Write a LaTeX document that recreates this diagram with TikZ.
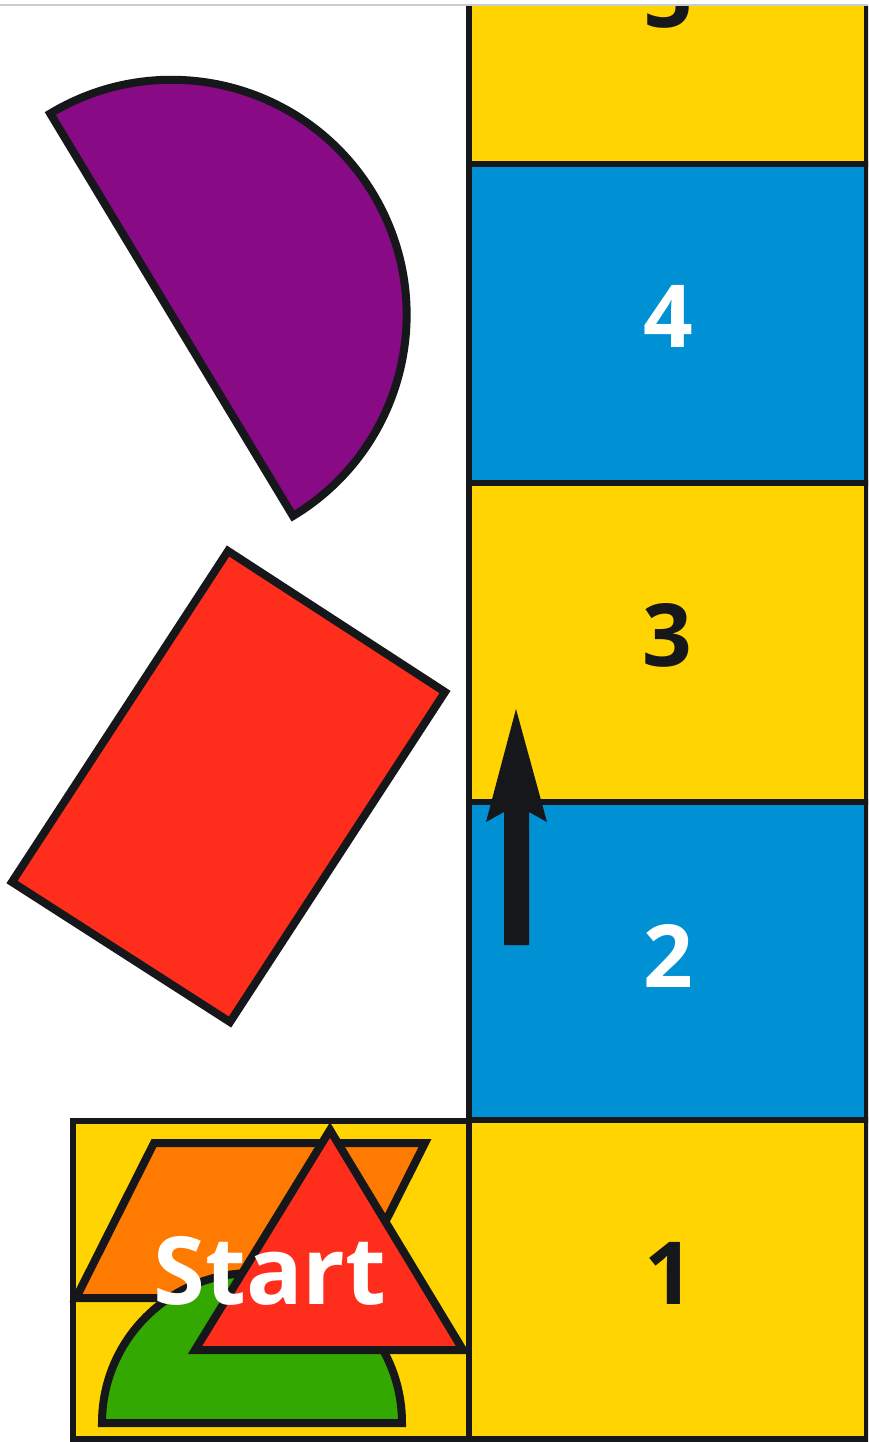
\documentclass[tikz,border=0pt]{standalone}
\usepackage{fontspec}
\setmainfont{Open Sans}
\definecolor{byellow}{HTML}{FFD400}
\definecolor{bblue}{HTML}{0091D4}
\definecolor{bred}{HTML}{FF2E1C}
\definecolor{borange}{HTML}{FF7A00}
\definecolor{bgreen}{HTML}{33A800}
\definecolor{bpurple}{HTML}{880A85}
\definecolor{ink}{HTML}{16171B}
\begin{document}
\begin{tikzpicture}[x=1pt,y=-1pt,
  cell/.style={draw=ink,line width=6pt,minimum width=397.5pt,minimum height=318.5pt,inner sep=0pt,outer sep=0pt},
  num/.style={inner sep=0pt,font=\fontsize{87}{87}\selectfont\bfseries},
  piece/.style={draw=ink,line width=8pt,line join=miter}]
\useasboundingbox (0,0) rectangle (868,1442);
\fill[white] (0,0) rectangle (868,1442);
\begin{scope}
\clip (0,6) rectangle (868,1442);
% board column
\node[cell,fill=byellow] (c1) at (667.75,1279.25) {};
\node[cell,fill=bblue] (c2) at (667.75,960.75) {};
\node[cell,fill=byellow] (c3) at (667.75,642.25) {};
\node[cell,fill=bblue] (c4) at (667.75,323.75) {};
\node[cell,fill=byellow] (c5) at (667.75,5.25) {};
\node[num,text=ink] (n1) at (669,1273) {1};
\node[num,text=white] (n2) at (668,956) {2};
\node[num,text=ink] (n3) at (667,635) {3};
\node[num,text=white] (n4) at (668,316) {4};
\node[num,text=ink] (n5) at (668,-3) {5};
% start box
\node[draw=ink,line width=6pt,fill=byellow,minimum width=396.5pt,minimum height=317.5pt,inner sep=0pt] (sbox) at (270.75,1279.75) {};
\end{scope}
% start pieces
\fill[borange,piece] (154,1143) -- (425,1143) -- (347,1298) -- (76,1298) -- cycle;
\fill[bgreen,piece] (102,1423) arc[start angle=180,end angle=360,radius=150] -- cycle;
\fill[bred,piece] (330,1130) -- (463,1350) -- (195,1350) -- cycle;
\node[inner sep=0pt,text=white,font=\fontsize{94}{94}\selectfont\bfseries] (start) at (270,1271) {Start};
% arrow
\fill[ink] (504,945) -- (504,812) -- (486,822) -- (516,709) -- (547,822) -- (529,812) -- (529,945) -- cycle;
% loose pieces
\fill[bpurple,piece] (293,516) arc[start angle=58.9,end angle=-121.1,radius=235] -- cycle;
\fill[bred,piece] (228,551) -- (445,692) -- (230,1022) -- (12,882) -- cycle;
% top rule
\draw[black!20,line width=1.5pt] (0,5) -- (868,5);
\end{tikzpicture}
\end{document}
